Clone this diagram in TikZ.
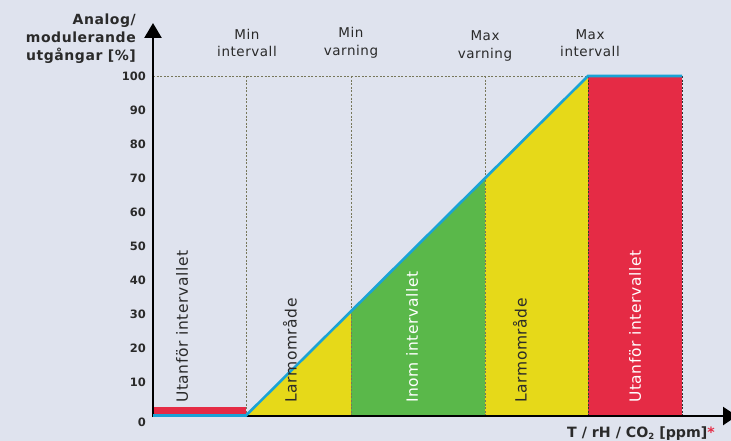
\documentclass[tikz,border=0pt]{standalone}
\usepackage{fontspec}
\setmainfont{DejaVu Sans}
\newfontfamily\labfont[LetterSpace=4]{DejaVu Sans}
\newfontfamily\titfont[LetterSpace=4]{DejaVu Sans Bold}
\usetikzlibrary{arrows.meta}
\definecolor{bg}{HTML}{DFE3EE}
\definecolor{cred}{HTML}{E52B45}
\definecolor{cyel}{HTML}{E6D919}
\definecolor{cgreen}{HTML}{5AB84A}
\definecolor{cblue}{HTML}{1AA3D5}
\definecolor{cdot}{HTML}{77775A}
\definecolor{ctext}{HTML}{2A2A2A}
\tikzset{
  dotline/.style={cdot, line width=0.8pt, dash pattern=on 2pt off 1.6pt},
  dotblack/.style={black!80, line width=0.8pt, dash pattern=on 2pt off 1.6pt},
  axisline/.style={black, line width=2.5pt},
  curve/.style={cblue, line width=2.6pt, line join=miter},
  ticklab/.style={anchor=east, inner sep=0pt, font=\fontsize{11.5}{13}\selectfont\bfseries, text=ctext},
  toplab/.style={align=center, inner sep=0pt, font=\labfont\fontsize{13.5}{17.5}\selectfont, text=ctext},
  zonelab/.style={rotate=90, anchor=west, inner sep=0pt, font=\labfont\fontsize{15.5}{17}\selectfont},
}
\begin{document}
\begin{tikzpicture}[x=1pt,y=-1pt]
\useasboundingbox (0,0) rectangle (731,441);
\fill[bg] (0,0) rectangle (731,441);
% zones
\fill[cyel] (246,416) -- (351,311.6) -- (351,416) -- cycle;
\fill[cgreen] (351,416) -- (351,311.6) -- (485,178.1) -- (485,416) -- cycle;
\fill[cyel] (485,416) -- (485,178.1) -- (588,76) -- (588,416) -- cycle;
\fill[cred] (588,76) rectangle (682,416);
\fill[cred] (153,407) rectangle (246,414.5);
% dotted guides
\draw[dotline] (153,76) -- (588,76);
\draw[dotline] (246,76) -- (246,416);
\draw[dotline] (351,76) -- (351,416);
\draw[dotline] (485,76) -- (485,416);
\draw[dotblack] (588,76) -- (588,416);
\draw[dotblack] (682,76) -- (682,416);
% axes
\coordinate (o) at (153,416);
\coordinate (ytop) at (153,23);
\coordinate (xend) at (737,416);
\draw[axisline, -{Triangle[length=15pt,width=17pt]}] (153,417.2) -- (ytop);
\draw[axisline, -{Triangle[length=14pt,width=18pt]}] (151.8,416) -- (xend);
% output curve
\coordinate (p0) at (153,415.5);
\coordinate (p1) at (246,415.5);
\coordinate (p2) at (588,76);
\coordinate (p3) at (682,76);
\draw[curve] (p0) -- (p1) -- (p2) -- (p3);
% tick labels
\foreach \k in {1,...,10}{
  \node[ticklab] (t\k) at (146,{76+34*(10-\k)}) {\the\numexpr\k*10\relax};
}
\node[ticklab] (t0) at (146,422) {0};
% axis titles
\node[align=right, anchor=east, inner sep=0pt, text=ctext,
  font=\titfont\fontsize{14}{18}\selectfont] (ytitle) at (136,39)
  {Analog/\\modulerande\\utgångar [\%]};
\node[anchor=base west, inner sep=0pt, text=ctext,
  font=\fontsize{14.2}{15}\selectfont\bfseries] (xtitle) at (567,437)
  {T / rH / CO\raisebox{-0.35ex}{\fontsize{8.5}{9}\selectfont 2} [ppm]{\color{cred}*}};
% top labels
\node[toplab] (minint) at (247,43) {Min\\intervall};
\node[toplab] (minvar) at (351,43) {Min\\varning};
\node[toplab] (maxvar) at (485,46) {Max\\varning};
\node[toplab] (maxint) at (590,43) {Max\\intervall};
% zone labels
\node[zonelab, text=ctext] (z1) at (182,403) {Utanför intervallet};
\node[zonelab, text=ctext] (z2) at (290,403) {Larmområde};
\node[zonelab, text=white] (z3) at (412,403) {Inom intervallet};
\node[zonelab, text=ctext] (z4) at (520,403) {Larmområde};
\node[zonelab, text=white] (z5) at (635,403) {Utanför intervallet};
\end{tikzpicture}
\end{document}
